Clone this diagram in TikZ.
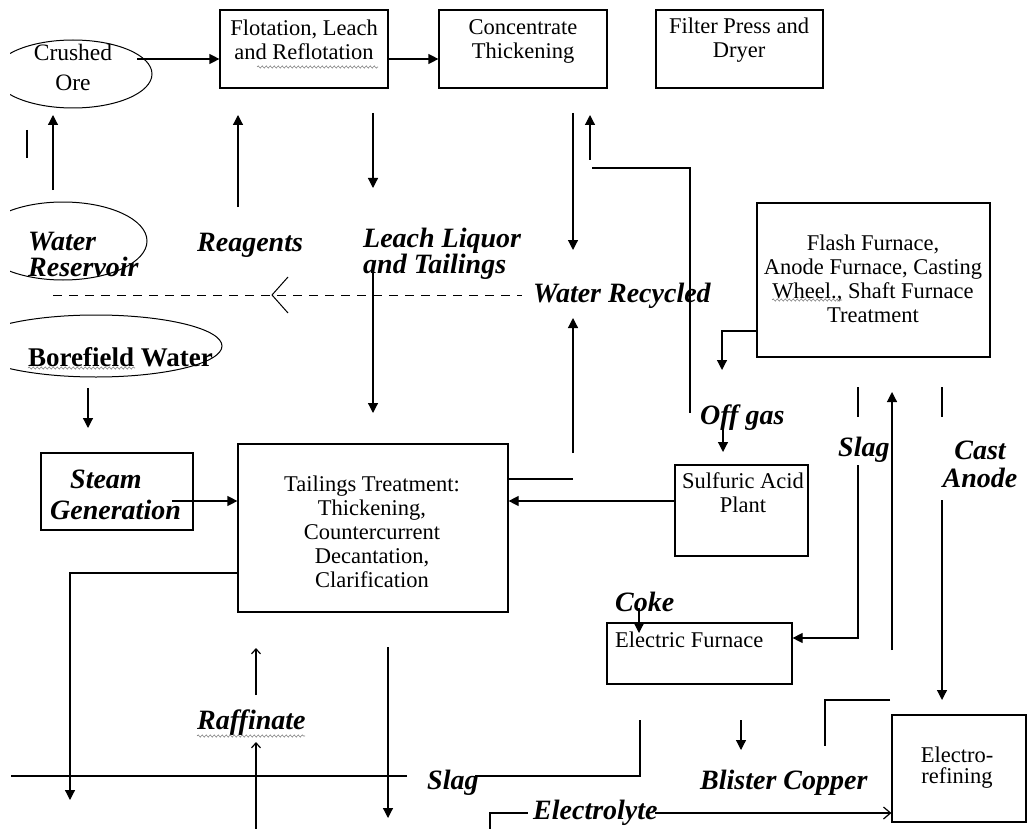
\documentclass[tikz,border=0pt]{standalone}
\usepackage{fontspec}
\setmainfont{Liberation Serif}
\usetikzlibrary{arrows.meta,shapes.geometric,decorations.pathmorphing}

\tikzset{
  ln/.style={line width=1.2pt},
  arr/.style={ln,-{Triangle[length=10pt,width=10pt]}},
  oarr/.style={ln,-{Straight Barb[length=5pt,width=9pt]}},
  box/.style={draw,ln,rectangle,inner sep=0pt},
  oval/.style={draw,line width=1pt,ellipse,inner sep=0pt},
  btext/.style={font=\fontsize{22.5}{24}\selectfont,inner sep=0pt,align=center},
  lbl/.style={font=\fontsize{28}{26}\selectfont\bfseries\itshape,inner sep=0pt,align=left},
  squig/.style={draw=gray,line width=0.6pt,decorate,
    decoration={snake,segment length=4pt,amplitude=1.1pt}},
  recyc/.style={line width=1pt,dash pattern=on 9pt off 7pt}
}

\begin{document}
\begin{tikzpicture}[x=1pt,y=-1pt]
\useasboundingbox (0,0) rectangle (1027,829);

% ---------- process boxes ----------
\node[box,minimum width=168pt,minimum height=78pt]  (flot)  at (304,49)    {};
\node[box,minimum width=168pt,minimum height=78pt]  (conc)  at (523,49)    {};
\node[box,minimum width=167pt,minimum height=78pt]  (filt)  at (739.5,49)  {};
\node[box,minimum width=233pt,minimum height=154pt] (flash) at (873.5,280) {};
\node[box,minimum width=152pt,minimum height=77pt]  (steam) at (117,491.5) {};
\node[box,minimum width=270pt,minimum height=168pt] (tail)  at (373,528)   {};
\node[box,minimum width=133pt,minimum height=91pt]  (sulf)  at (741.5,510.5) {};
\node[box,minimum width=185pt,minimum height=61pt]  (elec)  at (699.5,653.5) {};
\node[box,minimum width=134pt,minimum height=107pt] (eref)  at (959,768.5) {};

% ---------- source ovals (cut at the left edge) ----------
\begin{scope}
  \clip (10,0) rectangle (1027,829);
  \node[oval,minimum width=158pt,minimum height=68pt] (ore)  at (73,74)  {};
  \node[oval,minimum width=168pt,minimum height=78pt] (res)  at (63,241) {};
  \node[oval,minimum width=252pt,minimum height=62pt] (bore) at (96,346) {};
\end{scope}

% ---------- box texts ----------
\node[btext,font=\fontsize{23.5}{30}\selectfont] (toreA) at (73,67) {Crushed\\Ore};
\node[btext] (tflot)  at (304,40)  {Flotation, Leach\\and Reflotation};
\node[btext] (tconc)  at (523,41)  {Concentrate\\Thickening};
\node[btext] (tfilt)  at (739,40)  {Filter Press and\\Dryer};
\node[btext] (tflash) at (873,279) {Flash Furnace,\\Anode Furnace, Casting\\Wheel., Shaft Furnace\\Treatment};
\node[btext] (ttail)  at (372,531.5) {Tailings Treatment:\\Thickening,\\Countercurrent\\Decantation,\\Clarification};
\node[btext] (tsulf)  at (743,492.5) {Sulfuric Acid\\Plant};
\node[btext,anchor=west] (telec) at (615,640) {Electric Furnace};
\node[btext,font=\fontsize{22.5}{21}\selectfont] (teref) at (957,767.5) {Electro-\\refining};

% ---------- stream labels ----------
\node[lbl,anchor=west] (lres)   at (28,254)  {Water\\Reservoir};
\node[lbl,anchor=west] (lreag)  at (197,245) {Reagents};
\node[lbl,anchor=west] (lleach) at (363,254) {Leach Liquor\\and Tailings};
\node[lbl,anchor=west] (lrec)   at (533,296) {Water Recycled};
\node[anchor=west,inner sep=0pt,font=\fontsize{27}{29}\selectfont\bfseries] (lbore) at (28,357) {Borefield Water};
\node[lbl,anchor=west,font=\fontsize{28}{31}\selectfont\bfseries\itshape] (lsteam) at (50,494.5) {\hspace*{20pt}Steam\\Generation};
\node[lbl,anchor=west] (loff)   at (700,418) {Off gas};
\node[lbl,anchor=west] (lslagA) at (838,450) {Slag};
\node[lbl,align=center,font=\fontsize{28}{28}\selectfont\bfseries\itshape] (lcast) at (980,464) {Cast\\Anode};
\node[lbl,anchor=west] (lcoke)  at (615,602) {Coke};
\node[lbl,anchor=west] (lraff)  at (197,723) {Raffinate};
\node[lbl,anchor=west] (lslagB) at (427,783) {Slag};
\node[lbl,anchor=west] (lblis)  at (700,783) {Blister Copper};
\node[lbl,anchor=west] (lelyte) at (533,813) {Electrolyte};

% spelling marks under some words
\draw[squig] (257,67) -- (378,67);
\draw[squig] (28,368) -- (135,368);
\draw[squig] (197,736) -- (305,736);
\draw[squig] (772,300) -- (842,300);

% ---------- free ends of the connectors ----------
\coordinate (a1) at (137,59);
\coordinate (bar1) at (27,130);   \coordinate (bar2) at (27,158);
\coordinate (w1) at (53,190);     \coordinate (w2) at (53,115);
\coordinate (r1) at (238,207);    \coordinate (r2) at (238,115);
\coordinate (f1) at (373,113);    \coordinate (f2) at (373,188);
\coordinate (d1) at (53,295);     \coordinate (d2) at (522,295);
\coordinate (dv) at (272,295);
\coordinate (dv1) at (288,277);   \coordinate (dv2) at (288,313);
\coordinate (l1) at (373,270);    \coordinate (l2) at (373,413);
\coordinate (bw1) at (88,388);    \coordinate (bw2) at (88,428);
\coordinate (s1) at (172,501);
\coordinate (t1) at (238,573);    \coordinate (t2) at (70,573);   \coordinate (t3) at (70,800);
\coordinate (rf1) at (256,695);   \coordinate (rf2) at (256,648);
\coordinate (rf3) at (256,829);   \coordinate (rf4) at (256,742);
\coordinate (sl1) at (640,720);   \coordinate (sl2) at (640,776);  \coordinate (sl3) at (475,776);
\coordinate (sl4) at (407,776);   \coordinate (sl5) at (11,776);
\coordinate (dn1) at (388,647);   \coordinate (dn2) at (388,818);
\coordinate (c1) at (573,113);    \coordinate (c2) at (573,250);
\coordinate (u1) at (590,160);    \coordinate (u2) at (590,115);
\coordinate (g1) at (592,168);    \coordinate (g2) at (690,168);  \coordinate (g3) at (690,413);
\coordinate (wr1) at (573,453);   \coordinate (wr2) at (573,318);
\coordinate (h1) at (508,479);    \coordinate (h2) at (573,479);
\coordinate (sa) at (675,501);
\coordinate (og1) at (723,423);   \coordinate (og2) at (723,452);
\coordinate (fl1) at (757,331);   \coordinate (fl2) at (722,331);  \coordinate (fl3) at (722,370);
\coordinate (p1) at (858,387);    \coordinate (p2) at (858,417);
\coordinate (q1) at (942,387);    \coordinate (q2) at (942,417);
\coordinate (up1) at (892,650);   \coordinate (up2) at (892,392);
\coordinate (sg1) at (858,465);   \coordinate (sg2) at (858,638);
\coordinate (ca1) at (942,500);   \coordinate (ca2) at (942,700);
\coordinate (e1) at (890,700);    \coordinate (e2) at (825,700);   \coordinate (e3) at (825,746);
\coordinate (bc1) at (741,720);   \coordinate (bc2) at (741,750);
\coordinate (el1) at (490,829);   \coordinate (el2) at (490,813);  \coordinate (el3) at (528,813);
\coordinate (el4) at (655,813);
\coordinate (ck1) at (639,608);   \coordinate (ck2) at (639,633);

% ---------- connectors ----------
\draw[arr] (a1) -- (a1 -| flot.west);
\draw[arr] (flot.east |- a1) -- (a1 -| conc.west);
\draw[line width=2.4pt] (bar1) -- (bar2);
\draw[arr] (w1) -- (w2);
\draw[arr] (r1) -- (r2);
\draw[arr] (f1) -- (f2);
\draw[recyc] (d1) -- (d2);
\draw[line width=1pt] (dv1) -- (dv) -- (dv2);
\draw[arr] (l1) -- (l2);
\draw[arr] (bw1) -- (bw2);
\draw[arr] (s1) -- (s1 -| tail.west);
\draw[arr] (t1) -- (t2) -- (t3);
\draw[oarr] (rf1) -- (rf2);
\draw[oarr] (rf3) -- (rf4);
\draw[ln] (sl1) -- (sl2) -- (sl3);
\draw[ln] (sl4) -- (sl5);
\draw[arr] (dn1) -- (dn2);
\draw[arr] (c1) -- (c2);
\draw[arr] (u1) -- (u2);
\draw[ln] (g1) -- (g2) -- (g3);
\draw[arr] (wr1) -- (wr2);
\draw[ln] (h1) -- (h2);
\draw[arr] (sa) -- (sa -| tail.east);
\draw[arr] (og1) -- (og2);
\draw[arr] (fl1) -- (fl2) -- (fl3);
\draw[ln] (p1) -- (p2);
\draw[ln] (q1) -- (q2);
\draw[arr] (up1) -- (up2);
\draw[arr] (sg1) -- (sg2) -- (sg2 -| elec.east);
\draw[arr] (ca1) -- (ca2);
\draw[ln] (e1) -- (e2) -- (e3);
\draw[arr] (bc1) -- (bc2);
\draw[ln] (el1) -- (el2) -- (el3);
\draw[ln,-{Straight Barb[length=7pt,width=12pt]}] (el4) -- (el4 -| eref.west);
\draw[arr] (ck1) -- (ck2);
\end{tikzpicture}
\end{document}
